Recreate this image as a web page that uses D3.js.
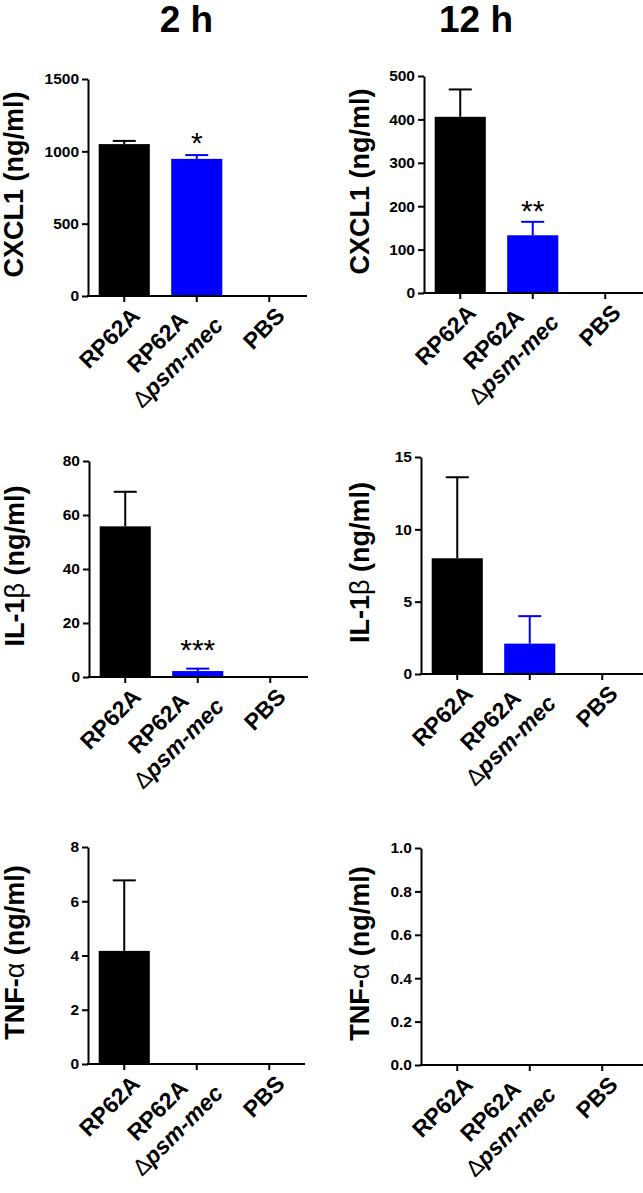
<!DOCTYPE html>
<html>
<head>
<meta charset="utf-8">
<script src="https://cdn.jsdelivr.net/npm/d3@7"></script>
<style>
  html, body { margin: 0; padding: 0; background: #fff; }
  svg { display: block; }
  text { font-family: "Liberation Sans", Arial, Helvetica, sans-serif; }
</style>
</head>
<body>
<svg id="chart" width="643" height="1193"></svg>
<script>
// ---------------- DATA ----------------
const timepoints = ["2 h", "12 h"];
const categories = ["RP62A", "RP62A|Δpsm-mec", "PBS"];
const barColors = ["#000000", "#0000ff", "#000000"];

const cxcl1_2h_mean  = [1050, 948, 0];
const cxcl1_2h_sem   = [22, 26, 0];
const cxcl1_12h_mean = [406, 133, 1];
const cxcl1_12h_sem  = [63, 31, 0];
const il1b_2h_mean   = [55.8, 2.2, 0];
const il1b_2h_sem    = [12.8, 0.9, 0];
const il1b_12h_mean  = [8.0, 2.1, 0];
const il1b_12h_sem   = [5.6, 1.9, 0];
const tnfa_2h_mean   = [4.17, 0, 0];
const tnfa_2h_sem    = [2.6, 0, 0];
const tnfa_12h_mean  = [0, 0, 0];
const tnfa_12h_sem   = [0, 0, 0];

const sig_cxcl1_2h  = ["", "*", ""];
const sig_cxcl1_12h = ["", "**", ""];
const sig_il1b_2h   = ["", "***", ""];
const sig_none      = ["", "", ""];

const ticks_cxcl1_2h  = [0, 500, 1000, 1500];
const ticks_cxcl1_12h = [0, 100, 200, 300, 400, 500];
const ticks_il1b_2h   = [0, 20, 40, 60, 80];
const ticks_il1b_12h  = [0, 5, 10, 15];
const ticks_tnfa_2h   = [0, 2, 4, 6, 8];
const ticks_tnfa_12h  = [0, 0.2, 0.4, 0.6, 0.8, 1.0];

const yLabels = [["CXCL1", " (ng/ml)"], ["IL-1", "β", " (ng/ml)"], ["TNF-", "α", " (ng/ml)"]];

// ---------------- LAYOUT ----------------
const panels = [
  {mean: cxcl1_2h_mean,  sem: cxcl1_2h_sem,  sig: sig_cxcl1_2h,  ticks: ticks_cxcl1_2h,  fmt: d3.format("d"),  lab: 0, x0: 88,  top: 79,  bot: 296,  xEnd: 307, labX: 23,  starGap: 19},
  {mean: cxcl1_12h_mean, sem: cxcl1_12h_sem, sig: sig_cxcl1_12h, ticks: ticks_cxcl1_12h, fmt: d3.format("d"),  lab: 0, x0: 424, top: 76,  bot: 293,  xEnd: 643, labX: 369, starGap: 18},
  {mean: il1b_2h_mean,   sem: il1b_2h_sem,   sig: sig_il1b_2h,   ticks: ticks_il1b_2h,   fmt: d3.format("d"),  lab: 1, x0: 89,  top: 461, bot: 677,  xEnd: 308, labX: 24,  starGap: 26},
  {mean: il1b_12h_mean,  sem: il1b_12h_sem,  sig: sig_none,      ticks: ticks_il1b_12h,  fmt: d3.format("d"),  lab: 1, x0: 421, top: 457, bot: 674,  xEnd: 643, labX: 369, starGap: 19},
  {mean: tnfa_2h_mean,   sem: tnfa_2h_sem,   sig: sig_none,      ticks: ticks_tnfa_2h,   fmt: d3.format("d"),  lab: 2, x0: 88,  top: 847, bot: 1064, xEnd: 305, labX: 24,  starGap: 19},
  {mean: tnfa_12h_mean,  sem: tnfa_12h_sem,  sig: sig_none,      ticks: ticks_tnfa_12h,  fmt: d3.format(".1f"), lab: 2, x0: 421, top: 848, bot: 1065, xEnd: 643, labX: 369, starGap: 19}
];
const titlePos = [{x: 186.5, y: 32}, {x: 476, y: 32}];

// approximate advance widths (em/1000) for Liberation Sans Bold
const W = {R:722,P:667,"6":556,"2":556,A:722,B:722,S:667,p:611,s:556,m:889,"-":333,e:556,c:556,"Δ":612};
const textW = (s, fs) => s.split("").reduce((a, ch) => a + (W[ch] || 600), 0) * fs / 1000;

const svg = d3.select("#chart");

svg.selectAll("text.title").data(timepoints).join("text")
  .attr("class", "title")
  .attr("x", (d, i) => titlePos[i].x)
  .attr("y", (d, i) => titlePos[i].y)
  .attr("text-anchor", "middle")
  .attr("font-size", 37).attr("font-weight", "bold")
  .text(d => d);

const LFS = 23;
const c45 = Math.SQRT1_2;

panels.forEach(p => {
  const g = svg.append("g");
  const y = d3.scaleLinear().domain([0, d3.max(p.ticks)]).range([p.bot, p.top]);
  const x = d3.scaleBand().domain(categories).range([p.x0, p.x0 + 217.5])
    .paddingInner(0.295).paddingOuter(0.1475);

  // bars
  g.selectAll("rect.bar").data(categories).join("rect")
    .attr("x", d => x(d))
    .attr("width", x.bandwidth())
    .attr("y", (d, i) => y(p.mean[i]))
    .attr("height", (d, i) => y(0) - y(p.mean[i]))
    .attr("fill", (d, i) => barColors[i]);

  // error bars (upper only)
  categories.forEach((c, i) => {
    if (p.sem[i] <= 0) return;
    const cx = x(c) + x.bandwidth() / 2;
    g.append("line").attr("x1", cx).attr("x2", cx)
      .attr("y1", y(p.mean[i])).attr("y2", y(p.mean[i] + p.sem[i]))
      .attr("stroke", barColors[i]).attr("stroke-width", 2);
    g.append("line").attr("x1", cx - 11.5).attr("x2", cx + 11.5)
      .attr("y1", y(p.mean[i] + p.sem[i])).attr("y2", y(p.mean[i] + p.sem[i]))
      .attr("stroke", barColors[i]).attr("stroke-width", 2);
  });

  // significance stars
  categories.forEach((c, i) => {
    if (!p.sig[i]) return;
    const cx = x(c) + x.bandwidth() / 2;
    const cy = y(p.mean[i] + p.sem[i]) - p.starGap;
    g.append("text").attr("x", cx).attr("y", cy + 0.58 * 30)
      .attr("text-anchor", "middle").attr("font-size", 30)
      .text(p.sig[i]);
  });

  // y axis
  const yAxis = d3.axisLeft(y).tickValues(p.ticks).tickFormat(p.fmt).tickSize(6).tickSizeOuter(0).tickPadding(3);
  const ya = g.append("g").attr("transform", `translate(${p.x0},0)`).call(yAxis);
  ya.select(".domain").attr("stroke", "#000").attr("stroke-width", 2);
  ya.selectAll(".tick line").attr("stroke", "#000").attr("stroke-width", 2);
  ya.selectAll(".tick text").attr("font-size", 15.5).attr("font-weight", "bold")
    .attr("fill", "#000").attr("font-family", "Liberation Sans, Arial, sans-serif");

  // x axis
  g.append("line").attr("x1", p.x0 - 1).attr("x2", p.xEnd).attr("y1", p.bot).attr("y2", p.bot)
    .attr("stroke", "#000").attr("stroke-width", 2);
  const xAxis = d3.axisBottom(x).tickSize(6).tickSizeOuter(0).tickFormat("");
  const xa = g.append("g").attr("transform", `translate(0,${p.bot})`).call(xAxis);
  xa.select(".domain").remove();
  xa.selectAll(".tick line").attr("stroke", "#000").attr("stroke-width", 2);

  // x labels rotated -45°
  categories.forEach(c => {
    const lines = c.split("|");
    const cx = x(c) + x.bandwidth() / 2;
    const n = lines.length;
    const maxW = d3.max(lines, ln => textW(ln, LFS));
    lines.forEach((ln, i) => {
      const v = 27 + (i - (n - 1) / 2) * 28.5;
      const u = n === 1 ? -3 : -3 - maxW / 2;
      const sx = cx + c45 * (u + v);
      const sy = p.bot + c45 * (v - u);
      const t = g.append("text")
        .attr("transform", `translate(${sx},${sy}) rotate(-45)`)
        .attr("text-anchor", n === 1 ? "end" : "middle")
        .attr("font-size", LFS).attr("font-weight", "bold");
      if (ln.startsWith("Δ")) {
        t.append("tspan").attr("font-weight", "normal").text("Δ");
        t.append("tspan").attr("font-style", "italic").text(ln.slice(1));
      } else {
        t.text(ln);
      }
    });
  });

  // y label
  const yl = g.append("text")
    .attr("transform", `translate(${p.labX},${(p.top + p.bot) / 2 - 3}) rotate(-90)`)
    .attr("text-anchor", "middle")
    .attr("font-size", 27).attr("font-weight", "bold");
  yLabels[p.lab].forEach(part => {
    const greek = (part === "β" || part === "α");
    yl.append("tspan").attr("font-weight", greek ? "normal" : "bold").text(part);
  });
});
</script>
</body>
</html>
